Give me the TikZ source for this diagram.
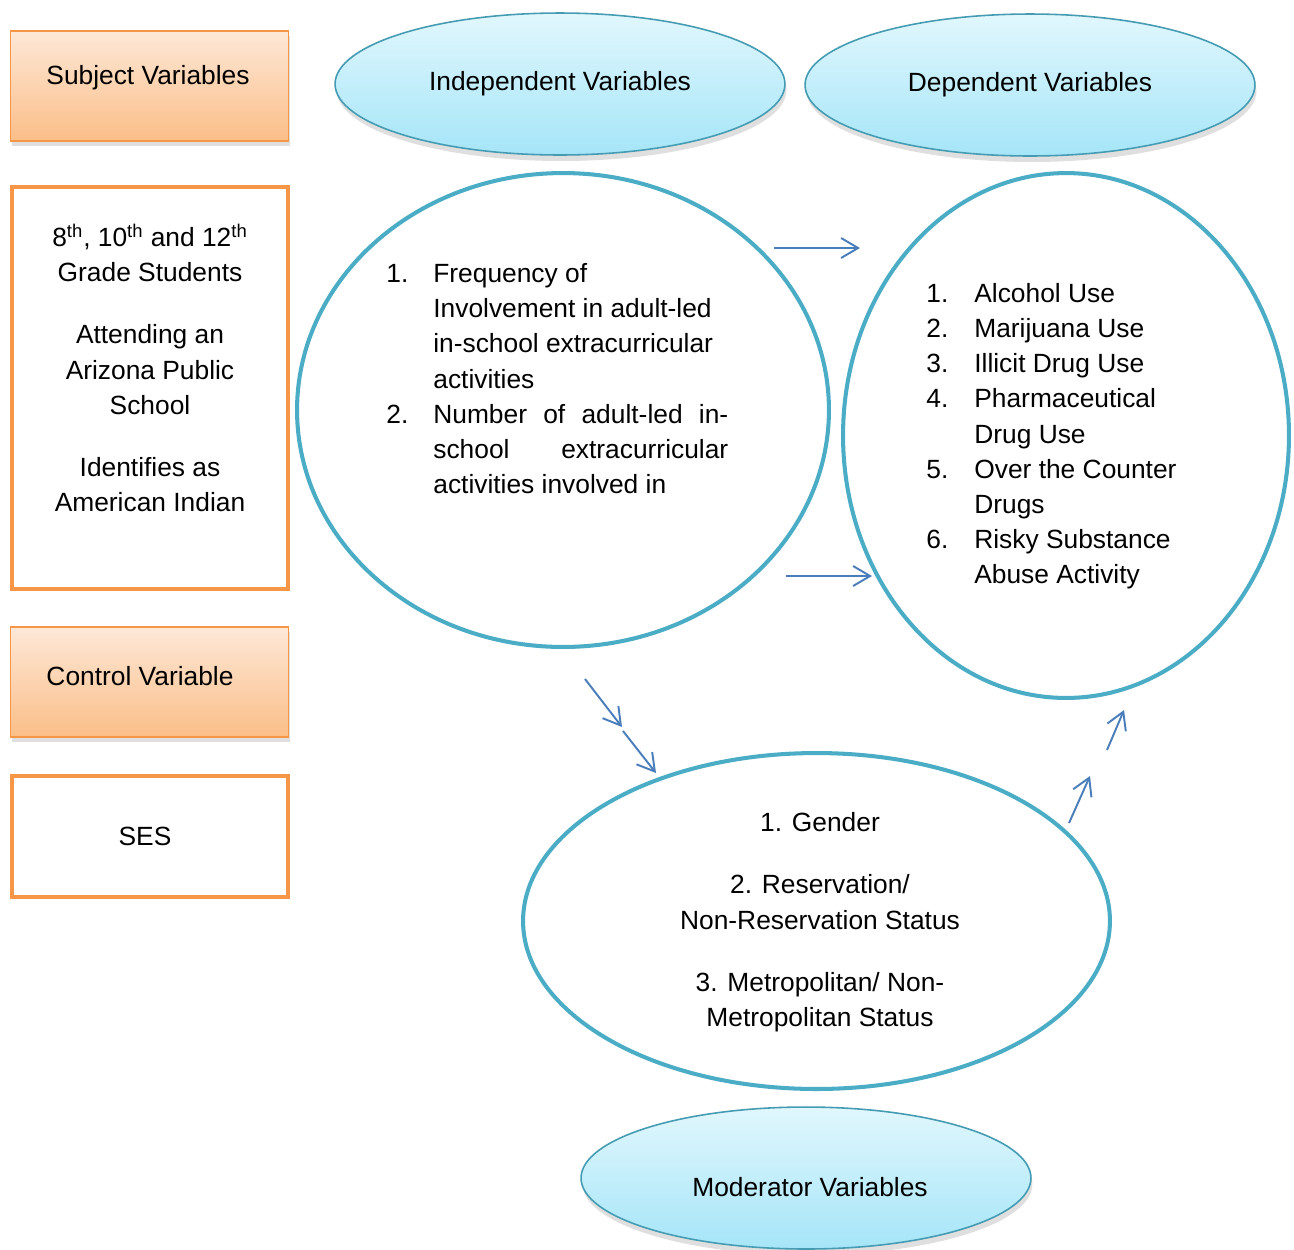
\documentclass[tikz,border=0pt]{standalone}
\usepackage{fontspec}
\setmainfont{Liberation Sans}
\usetikzlibrary{shapes.geometric, arrows.meta, shadows}

\definecolor{orgline}{HTML}{F79646}
\definecolor{orgtop}{HTML}{FDE8D7}
\definecolor{orgbot}{HTML}{FBBE88}
\definecolor{cyanline}{HTML}{4BACC6}
\definecolor{cyantop}{HTML}{E1F7FD}
\definecolor{cyanbot}{HTML}{A5E5F8}
\definecolor{arrowblue}{HTML}{4A7EBB}

\begin{document}
\begin{tikzpicture}[
    x=0.02cm, y=-0.02cm,
    txt/.style={font=\fontsize{15}{20}\selectfont, inner sep=0pt},
    headbox/.style={
        rectangle, draw=orgline, line width=0.9pt,
        top color=orgtop, bottom color=orgbot,
        minimum width=5.56cm, minimum height=2.2cm,
        drop shadow={shadow xshift=0.3mm, shadow yshift=-1mm, opacity=0.25}
    },
    framebox/.style={
        rectangle, draw=orgline, line width=2.3pt, fill=white,
        minimum width=5.52cm, font=\fontsize{15}{20}\selectfont
    },
    headoval/.style={
        ellipse, draw=cyanline!90!black, line width=0.9pt, inner sep=0pt,
        top color=cyantop, bottom color=cyanbot,
        minimum width=9cm, minimum height=2.84cm,
        font=\fontsize{15}{20}\selectfont,
        drop shadow={shadow xshift=0.3mm, shadow yshift=-1.2mm, opacity=0.25}
    },
    bigoval/.style={ellipse, draw=cyanline, line width=2.3pt, inner sep=0pt},
    arr/.style={-{Straight Barb[length=3.4mm, width=4mm]}, draw=arrowblue, line width=1.1pt},
]
\useasboundingbox (0,0) rectangle (1294,1249);

% ============ Left column ============
\node[headbox] (subj) at (149.5,86) {};
\node[txt] (subjtxt) at (148,78) {Subject Variables};
\node[framebox, minimum height=8.04cm] (grade) at (150,388) {};
\node[txt] (gradetxt) at (150,372) {\begin{tabular}{@{}c@{}}
8\textsuperscript{th}, 10\textsuperscript{th} and 12\textsuperscript{th}\\
Grade Students\\[0.54cm]
Attending an\\
Arizona Public\\
School\\[0.54cm]
Identifies as\\
American Indian
\end{tabular}};
\node[headbox] (ctrl) at (149.5,682) {};
\node[txt] (ctrltxt) at (140,676) {Control Variable};
\node[framebox, minimum height=2.42cm] (ses) at (150,836.5) {};
\node[txt] (sestxt) at (145,836) {SES};

% ============ Headers ============
\node[headoval] (indep) at (560,84) {Independent Variables};
\node[headoval] (dep) at (1030,85) {Dependent Variables};
\node[headoval] (modlbl) at (806,1178) {};
\node[txt] (modlbltxt) at (810,1187) {Moderator Variables};

% ============ Independent ============
\node[bigoval, minimum width=10.64cm, minimum height=9.48cm] (ivoval) at (563,410) {};
\node[txt, anchor=west] (ivlist) at (386,381) {\begin{tabular}{@{}p{0.94cm}@{}l@{}}
1. & Frequency of\\
   & Involvement in adult-led\\
   & in-school extracurricular\\
   & activities\\
2. & \makebox[5.9cm][s]{Number of adult-led in-}\\
   & \makebox[5.9cm][s]{school extracurricular}\\
   & activities involved in
\end{tabular}};

% ============ Dependent ============
\node[bigoval, minimum width=8.92cm, minimum height=10.5cm] (dvoval) at (1066,435.5) {};
\node[txt, anchor=west] (dvlist) at (926,436) {\begin{tabular}{@{}p{0.96cm}@{}l@{}}
1. & Alcohol Use\\
2. & Marijuana Use\\
3. & Illicit Drug Use\\
4. & Pharmaceutical\\
   & Drug Use\\
5. & Over the Counter\\
   & Drugs\\
6. & Risky Substance\\
   & Abuse Activity
\end{tabular}};

% ============ Moderator ============
\node[bigoval, minimum width=11.74cm, minimum height=6.72cm] (modoval) at (816.5,921) {};
\node[txt] (modlist) at (820,922) {\begin{tabular}{@{}c@{}}
1. Gender\\[0.54cm]
2. Reservation/\\
Non-Reservation Status\\[0.54cm]
3. Metropolitan/ Non-\\
Metropolitan Status
\end{tabular}};

% ============ Arrows ============
\coordinate (a1s) at (774,248);
\coordinate (a1e) at (860,248);
\coordinate (a2s) at (786,576);
\coordinate (a2e) at (872,576);
\coordinate (a3s) at (585,679);
\coordinate (a3e) at (622,727);
\coordinate (a4s) at (623,731);
\coordinate (a4e) at (656,773);
\coordinate (a5s) at (1069,823);
\coordinate (a5e) at (1090,776);
\coordinate (a6s) at (1107,750);
\coordinate (a6e) at (1124,710);

\draw[arr] (a1s) -- (a1e);
\draw[arr] (a2s) -- (a2e);
\draw[arr] (a3s) -- (a3e);
\draw[arr] (a4s) -- (a4e);
\draw[arr] (a5s) -- (a5e);
\draw[arr] (a6s) -- (a6e);

\end{tikzpicture}
\end{document}
